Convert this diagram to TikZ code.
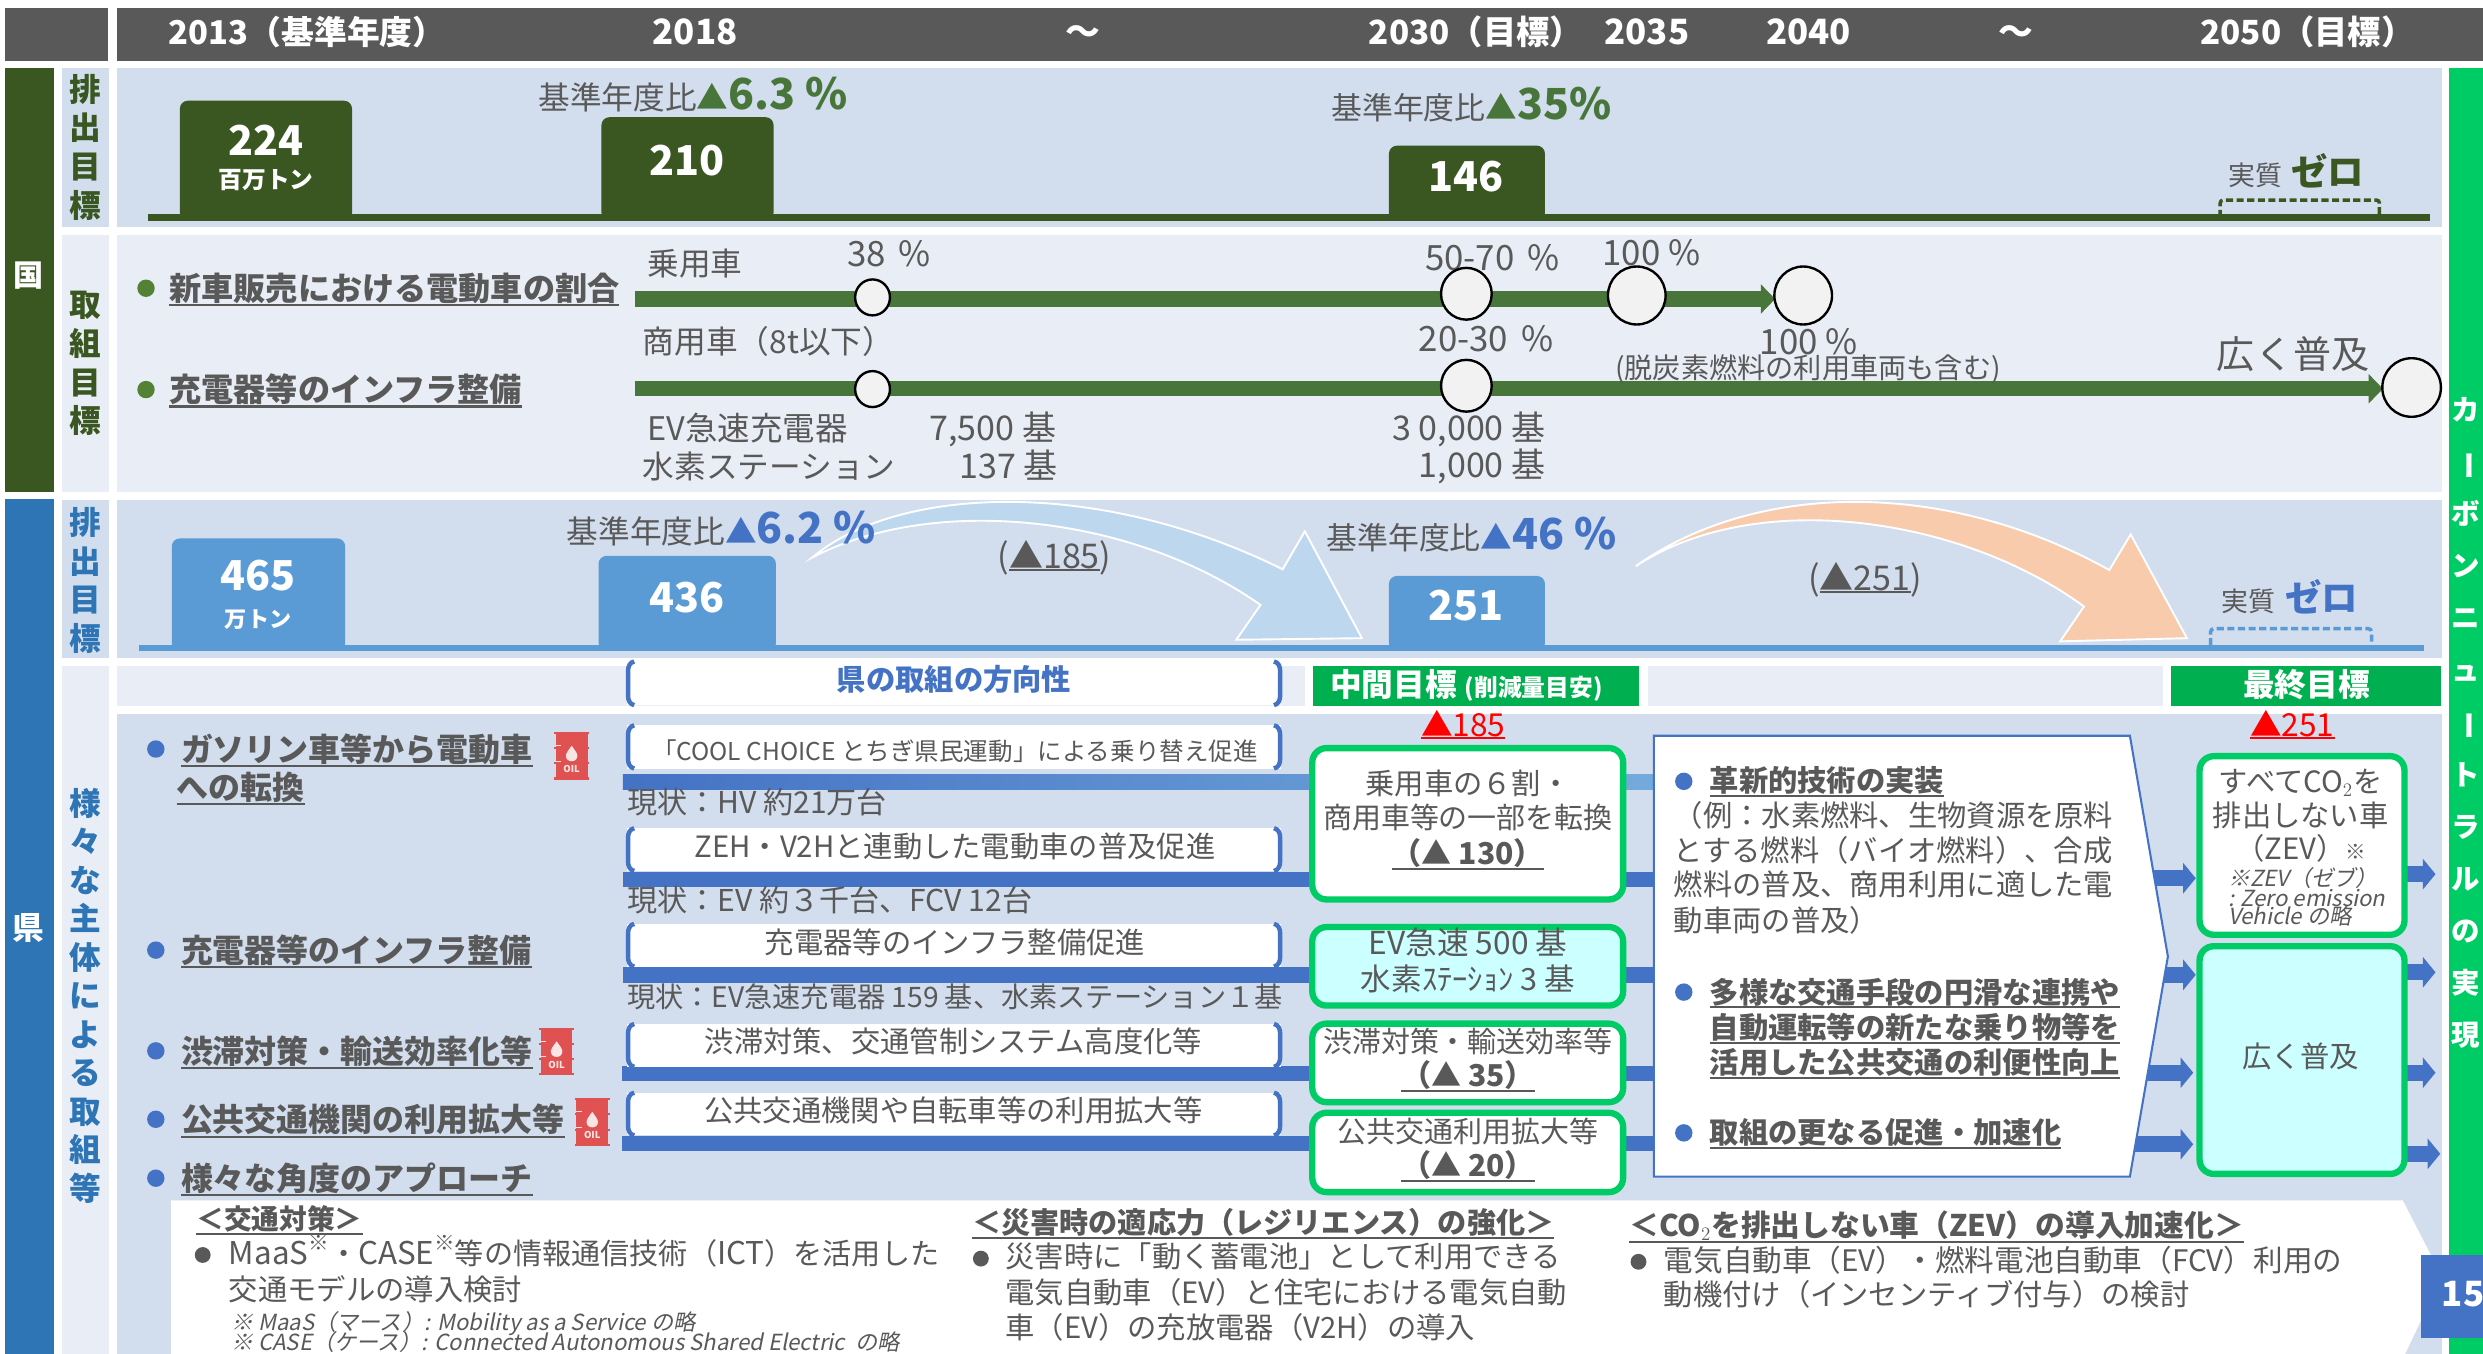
\documentclass[tikz,border=0pt]{standalone}
\usepackage{fontspec}
\usepackage{graphicx}
\setmainfont{Noto Sans CJK JP}[AutoFakeSlant=0.2]
\usetikzlibrary{arrows.meta,shapes.geometric}
\definecolor{hdr}{HTML}{595959}
\definecolor{dgreen}{HTML}{3A5722}
\definecolor{mgreen}{HTML}{48763A}
\definecolor{bgreen}{HTML}{00CC66}
\definecolor{cgreen}{HTML}{00B050}
\definecolor{lgreen}{HTML}{548235}
\definecolor{pa}{HTML}{D2DDEE}
\definecolor{pb}{HTML}{E9EDF6}
\definecolor{kblue}{HTML}{2E75B6}
\definecolor{sblue}{HTML}{5B9BD5}
\definecolor{rblue}{HTML}{4472C4}
\definecolor{tgrey}{HTML}{595959}
\definecolor{cyanbox}{HTML}{CCFFFF}
\definecolor{oilred}{HTML}{E05252}
\definecolor{arblue}{HTML}{BDD7EE}
\definecolor{arpeach}{HTML}{F8CBAD}
\definecolor{circ}{HTML}{F2F2F2}
\newcommand\fs[1]{\fontsize{#1}{#1}\selectfont}
\newcommand\fsb[2]{\fontsize{#1}{#2}\selectfont}
\newcommand\ulx[1]{\vtop{\hbox{#1}\kern0.3pt\hrule height 1.3pt}}
\tikzset{
 txt/.style={inner sep=0,outer sep=0,text=tgrey},
 tl/.style={txt,anchor=base west},
 tc/.style={txt,anchor=base},
 tr/.style={txt,anchor=base east},
 fz/.style={font=\fs{#1}},
 bz/.style={font=\fs{#1}\bfseries},
 wht/.style={text=white},
 vlab/.style={inner sep=0,outer sep=0,align=center,anchor=center},
 dot/.style={circle,inner sep=0,minimum size=11pt,fill=#1},
 ring/.style={ellipse,draw=black,line width=1.5pt,fill=circ,inner sep=0},
 track/.style={draw=mgreen,line width=9.5pt,-{Triangle[length=9pt,width=18pt]}},
 blk/.style={draw=rblue,line width=9.5pt},
 blkarrow/.style={draw=rblue,line width=10pt,-{Triangle[length=8pt,width=19pt]}},
 gbox/.style={draw=bgreen,line width=4pt,rounded corners=9pt,fill=#1},
 brk/.style={draw=rblue,line width=2.8pt},
 dashbox/.style={draw=#1,line width=2.2pt,dash pattern=on 4.5pt off 2.2pt,rounded corners=2pt},
 oilpic/.pic={
  \fill[oilred] (1,0) rectangle (21,30);
  \fill[oilred] (0,0) rectangle (22,1.4);
  \fill[oilred] (0,28.6) rectangle (22,30);
  \fill[oilred] (0,9.6) rectangle (22,10.8);
  \fill[oilred] (0,19.2) rectangle (22,20.4);
  \fill[white!80!oilred] (1,8.2) rectangle (4.5,8.9);
  \fill[white!80!oilred] (1,18) rectangle (4.5,18.7);
  \fill[white!85!oilred] (11,8.6) .. controls (8.5,12) and (7.4,13.5) .. (7.4,15) .. controls (7.4,17.2) and (9,18.4) .. (11,18.4) .. controls (13,18.4) and (14.6,17.2) .. (14.6,15) .. controls (14.6,13.5) and (13.5,12) .. (11,8.6);
  \node[inner sep=0,text=white!85!oilred,font=\fs{6}\bfseries] (-t) at (11,23.4) {OIL};
 }
}
\newcommand\brbox[5]{% name x1 y1 x2 y2
 \node[fill=white,inner sep=0,outer sep=0,anchor=north west,minimum width={#4-#2},minimum height={#5-#3}] (#1) at (#2,#3) {};
 \draw[brk] ([xshift=4.5pt]#1.north west) to[out=190,in=90] ([xshift=0.6pt,yshift=-6pt]#1.north west) -- ([xshift=0.6pt,yshift=6pt]#1.south west) to[out=-90,in=170] ([xshift=4.5pt]#1.south west);
 \draw[brk] ([xshift=-4.5pt]#1.north east) to[out=-10,in=90] ([xshift=-0.6pt,yshift=-6pt]#1.north east) -- ([xshift=-0.6pt,yshift=6pt]#1.south east) to[out=-90,in=10] ([xshift=-4.5pt]#1.south east);
}
\begin{document}
\begin{tikzpicture}[x=1pt,y=-1pt]
\useasboundingbox (0,0) rectangle (1568,855);
\fill[white] (0,0) rectangle (1568,855);
% header
\fill[hdr] (3,5.3) rectangle (68.5,38.3);
\fill[hdr] (74,5.3) rectangle (1568,38.3);
\node[tc,wht,bz=20.7] (h1) at (194,28) {2013（基準年度）};
\node[tc,wht,bz=22] (h2) at (439,28) {2018};
\node[tc,wht,bz=22] (h3) at (684,28) {～};
\node[tc,wht,bz=21] (h4) at (932,28) {2030（目標）};
\node[tc,wht,bz=22] (h5) at (1040,28) {2035};
\node[tc,wht,bz=22] (h6) at (1142,28) {2040};
\node[tc,wht,bz=22] (h7) at (1273,28) {～};
\node[tc,wht,bz=21] (h8) at (1457,28) {2050（目標）};
% side bars
\fill[dgreen] (3,43) rectangle (34,310.5);
\fill[kblue] (3,315) rectangle (34,855);
\fill[pa] (39,43) rectangle (69,143.4);
\fill[pb] (39,148.4) rectangle (69,310.5);
\fill[pa] (39,315.5) rectangle (69,415.5);
\fill[pb] (39,420.6) rectangle (69,855);
\fill[pa] (74,43) rectangle (1542,143.4);
\fill[pb] (74,148.4) rectangle (1542,310.5);
\fill[pa] (74,315.5) rectangle (1542,415.5);
\fill[pb] (74,420.6) rectangle (824,446);
\fill[pb] (1040.5,420.6) rectangle (1366,446);
\fill[pa] (74,451) rectangle (1542,855);
\fill[bgreen] (1546.6,43) rectangle (1568,855);
\node[vlab,text=white,font=\fs{19}\bfseries] (koku) at (18,174) {国};
\node[vlab,text=white,font=\fs{20}\bfseries] (ken) at (18,586) {県};
\node[vlab,text=dgreen,font=\fsb{20}{24.4}\bfseries] (v1) at (54,93) {排\\出\\目\\標};
\node[vlab,text=dgreen,font=\fsb{20}{24.4}\bfseries] (v2) at (54,229.6) {取\\組\\目\\標};
\node[vlab,text=kblue,font=\fsb{20}{24.4}\bfseries] (v3) at (54,366.5) {排\\出\\目\\標};
\node[vlab,text=kblue,font=\fsb{20}{24.3}\bfseries] (v4) at (54,628.8) {様\\々\\な\\主\\体\\に\\よ\\る\\取\\組\\等};
\node[vlab,text=white,font=\fsb{18}{32.9}\bfseries] (v5) at (1557,456.5) {カ\\\rotatebox[origin=c]{-90}{ー}\\ボ\\ン\\ニ\\ュ\\\rotatebox[origin=c]{-90}{ー}\\ト\\ラ\\ル\\の\\実\\現};
% national emission row
\fill[dgreen,rounded corners=5pt] (113.6,63.6) rectangle (222.3,139.4);
\fill[dgreen,rounded corners=5pt] (379.8,74) rectangle (488.5,139.4);
\fill[dgreen,rounded corners=5pt] (877.1,92) rectangle (975.6,139.4);
\coordinate (ng1) at (93.4,137.4);
\coordinate (ng2) at (1534.6,137.4);
\draw[dgreen,line width=4pt] (ng1) -- (ng2);
\node[tc,wht,bz=26] (n224) at (168,98) {224};
\node[tc,wht,bz=15] (nunit) at (168,119) {百万トン};
\node[tc,wht,bz=26] (n210) at (434,111) {210};
\node[tc,wht,bz=26] (n146) at (926,121) {146};
\node[tl,fz=20] (nr1) at (340,69) {基準年度比};
\node[tl,bz=20,text=mgreen] (nr1a) at (nr1.base east) {▲};
\node[tl,bz=27,text=mgreen] (nr1b) at (nr1a.base east) {6.3 \%};
\node[tl,fz=19.5] (nr2) at (840.7,75.5) {基準年度比};
\node[tl,bz=20,text=mgreen] (nr2a) at (nr2.base east) {▲};
\node[tl,bz=27,text=mgreen] (nr2b) at (nr2a.base east) {35\%};
\node[tl,fz=17] (nz1) at (1407,117) {実質};
\node[tl,bz=23,text=dgreen] (nz2) at (1447,117) {ゼロ};
\draw[dashbox=dgreen] (1402,137) -- (1402,126.3) -- (1502.6,126.3) -- (1502.6,137);
% national measures
\node[dot=lgreen] (nb1) at (92.2,182) {};
\node[dot=lgreen] (nb2) at (92.2,246) {};
\node[tl,bz=20.3] (nm1) at (107,189.5) {\ulx{新車販売における電動車の割合}};
\node[tl,bz=20.3] (nm2) at (107,253.7) {\ulx{充電器等のインフラ整備}};
\coordinate (tr1a) at (400.7,188.8);
\coordinate (tr1b) at (1121,188.8);
\coordinate (tr2a) at (400.7,245.5);
\coordinate (tr2b) at (1504.8,245.5);
\draw[track] (tr1a) -- (tr1b);
\draw[track] (tr2a) -- (tr2b);
\node[tl,fz=20] (p1) at (408.8,173.7) {乗用車};
\node[tl,fz=22] (p2) at (535,168.4) {38\hspace{.15em} \%};
\node[tl,fz=20] (p3) at (406,223) {商用車（8t以下）};
\node[tl,fz=22] (p4) at (900,170.6) {50-70\hspace{.15em} \%};
\node[tl,fz=22] (p5) at (1012,167.7) {100 \%};
\node[tl,fz=22] (p6) at (896,222) {20-30\hspace{.15em} \%};
\node[tl,fz=22] (p7) at (1111.3,223.6) {100 \%};
\node[tl,fz=17.8] (p8) at (1020,239) {(脱炭素燃料の利用車両も含む)};
\node[tl,fz=24] (p9) at (1400,232.6) {広く普及};
\node[tl,fz=20.5] (p10) at (408.8,278.3) {EV急速充電器};
\node[tr,fz=21.5] (p11) at (667,278.3) {7,500 基};
\node[tl,fz=20] (p12) at (406,302) {水素ステーション};
\node[tr,fz=21.5] (p13) at (668,302) {137 基};
\node[tr,fz=21.5] (p14) at (976,278.3) {3 0,000 基};
\node[tr,fz=21.5] (p15) at (976,301.7) {1,000 基};
\node[ring,minimum width=22pt,minimum height=22.7pt] (c1) at (551,187.8) {};
\node[ring,minimum width=32pt,minimum height=32.7pt] (c2) at (926,185.5) {};
\node[ring,minimum width=36.4pt,minimum height=36.6pt] (c3) at (1033.6,186.6) {};
\node[ring,minimum width=36.4pt,minimum height=36.6pt] (c4) at (1138.7,186.6) {};
\node[ring,minimum width=22pt,minimum height=22.7pt] (c5) at (551,245.7) {};
\node[ring,minimum width=32pt,minimum height=32.7pt] (c6) at (926,243.6) {};
\node[ring,minimum width=37pt,minimum height=37pt] (c7) at (1522.9,244.7) {};
% prefecture emission row
\fill[sblue,rounded corners=5pt] (108.5,340) rectangle (218,411);
\fill[sblue,rounded corners=5pt] (378,351) rectangle (490,411);
\fill[sblue,rounded corners=5pt] (877.1,363.7) rectangle (975.6,411);
\coordinate (kg1) at (88,409.3);
\coordinate (kg2) at (1531,409.3);
\draw[sblue,line width=4pt] (kg1) -- (kg2);
\node[tc,wht,bz=26] (k465) at (163,373) {465};
\node[tc,wht,bz=14] (kunit) at (163,396) {万トン};
\node[tc,wht,bz=26] (k436) at (434,387) {436};
\node[tc,wht,bz=26] (k251) at (926,392) {251};
\path[fill=arblue,draw=white,line width=1.2pt] (513,352) .. controls (565,308) and (690,300) .. (810,359.5) -- (824,335.5) -- (860,403) -- (780.7,404) -- (796,382) .. controls (715,325) and (590,312) .. cycle;
\path[fill=arpeach,draw=white,line width=1.2pt] (1033,357.5) .. controls (1110,303) and (1230,303) .. (1332,360) -- (1345.5,337.5) -- (1381,403) -- (1301,405) -- (1316,383) .. controls (1240,327) and (1110,307) .. cycle;
\node[tl,fz=20] (kr1) at (358,343) {基準年度比};
\node[tl,bz=20,text=rblue] (kr1a) at (kr1.base east) {▲};
\node[tl,bz=27,text=rblue] (kr1b) at (kr1a.base east) {6.2 \%};
\node[tl,fz=19.5] (kr2) at (837.6,347) {基準年度比};
\node[tl,bz=20,text=rblue] (kr2a) at (kr2.base east) {▲};
\node[tl,bz=27,text=rblue] (kr2b) at (kr2a.base east) {46 \%};
\node[tl,fz=17] (kz1) at (1403,386) {実質};
\node[tl,bz=23,text=rblue] (kz2) at (1443,386) {ゼロ};
\draw[dashbox=sblue] (1396,407.5) -- (1396,397) -- (1497.6,397) -- (1497.6,407.5);
\node[tl,fz=21.5] (ka1) at (630,359) {(\ulx{▲185})};
\node[tl,fz=21.5] (ka2) at (1142,372.7) {(\ulx{▲251})};
% heading strip
\brbox{hb}{396}{417.7}{809}{445.3}
\node[tc,bz=18.5,text=rblue] (hbt) at (602.5,436) {県の取組の方向性};
\fill[cgreen] (829,420.6) rectangle (1035,446);
\fill[cgreen] (1371,420.6) rectangle (1541.6,446);
\node[tl,wht,bz=20] (mid1) at (840,440) {中間目標};
\node[tl,wht,bz=15] (mid2) at (925,440) {(削減量目安)};
\node[tc,wht,bz=20] (fin) at (1456.5,440) {最終目標};
% left items
\node[dot=rblue] (kb1) at (98.4,473) {};
\node[dot=rblue] (kb2) at (98.4,600) {};
\node[dot=rblue] (kb3) at (98.4,663.6) {};
\node[dot=rblue] (kb4) at (98.4,706.8) {};
\node[dot=rblue] (kb5) at (98.4,744) {};
\node[tl,bz=20.2] (ki1) at (114.3,480.7) {\ulx{ガソリン車等から電動車}};
\node[tl,bz=20.2] (ki1b) at (111.6,505) {\ulx{への転換}};
\node[tl,bz=20.2] (ki2) at (114.3,607.6) {\ulx{充電器等のインフラ整備}};
\node[tl,bz=20.2] (ki3) at (114.3,671.5) {\ulx{渋滞対策・輸送効率化等}};
\node[tl,bz=20.2] (ki4) at (114.3,714.8) {\ulx{公共交通機関の利用拡大等}};
\node[tl,bz=20.2] (ki5) at (114.3,751.6) {\ulx{様々な角度のアプローチ}};
\pic (o1) at (350,462.3) {oilpic};
\pic (o2) at (340.5,649) {oilpic};
\pic (o3) at (363,693.5) {oilpic};
% bars to the pentagon
\coordinate (bl2) at (393.4,555.3);
\coordinate (br2) at (1046,555.3);
\coordinate (bl3) at (393.4,615.7);
\coordinate (br3) at (1046,615.7);
\coordinate (bl4) at (393,677.6);
\coordinate (br4) at (1046,677.6);
\coordinate (bl5) at (393,722.4);
\coordinate (br5) at (1046,722.4);
\shade[left color=rblue,right color=sblue!85!white] (393.4,489) rectangle (1046,498.5);
\draw[blk] (bl2) -- (br2);
\draw[blk] (bl3) -- (br3);
\draw[blk] (bl4) -- (br4);
\draw[blk] (bl5) -- (br5);
\brbox{b1}{396}{458}{809}{485.3}
\brbox{b2}{396}{523}{809}{550}
\brbox{b3}{396}{583.4}{809}{610.4}
\brbox{b4}{396}{646.6}{809}{673.7}
\brbox{b5}{396}{690}{809}{717}
\node[tc,fz=15.5] (b1t) at (603,480.4) {「COOL CHOICE とちぎ県民運動」による乗り替え促進};
\node[tc,fz=18.5] (b2t) at (603,541.4) {ZEH・V2Hと連動した電動車の普及促進};
\node[tc,fz=18.5] (b3t) at (603,602) {充電器等のインフラ整備促進};
\node[tc,fz=18.5] (b4t) at (602,664.5) {渋滞対策、交通管制システム高度化等};
\node[tc,fz=18.5] (b5t) at (602,708.5) {公共交通機関や自転車等の利用拡大等};
\node[tl,fz=19] (s1) at (396,514) {現状：HV 約21万台};
\node[tl,fz=19] (s2) at (396,575.9) {現状：EV 約３千台、FCV 12台};
\node[tl,fz=17.8] (s3) at (396,636.4) {現状：EV急速充電器 159 基、水素ステーション１基};
% green boxes
\node[tc,fz=20,text=red] (red1) at (924,465) {\ulx{▲185}};
\node[tc,fz=20,text=red] (red2) at (1447.6,465) {\ulx{▲251}};
\draw[gbox=white] (828.7,472.4) rectangle (1025,568);
\draw[gbox=cyanbox] (828.7,585.4) rectangle (1025,635);
\draw[gbox=white] (828.7,646.4) rectangle (1025,696);
\draw[gbox=white] (828.7,702.7) rectangle (1025,752.8);
\node[tc,fz=18.5] (g1a) at (927,502) {乗用車の６割・};
\node[tc,fz=18.3] (g1b) at (927,523) {商用車等の一部を転換};
\node[tc,bz=19] (g1c) at (927,545.7) {\ulx{（▲ 130）}};
\node[tc,fz=20] (g2a) at (927,603) {EV急速 500 基};
\node[tc,fz=19.3] (g2b) at (927,625.6) {水素ｽﾃｰｼｮﾝ 3 基};
\node[tc,fz=18.3] (g3a) at (927,664.5) {渋滞対策・輸送効率等};
\node[tc,bz=19] (g3b) at (927,686) {\ulx{（▲ 35）}};
\node[tc,fz=18.3] (g4a) at (927,721.4) {公共交通利用拡大等};
\node[tc,bz=19] (g4b) at (927,743) {\ulx{（▲ 20）}};
% pentagon
\coordinate (a1l) at (1360,554.6);
\coordinate (a1r) at (1386.6,554.6);
\coordinate (a2l) at (1364,615.6);
\coordinate (a2r) at (1386.6,615.6);
\coordinate (a3l) at (1356,677.4);
\coordinate (a3r) at (1385,677.4);
\coordinate (a4l) at (1347,722.6);
\coordinate (a4r) at (1385,722.6);
\draw[blkarrow] (a1l) -- (a1r);
\draw[blkarrow] (a2l) -- (a2r);
\draw[blkarrow] (a3l) -- (a3r);
\draw[blkarrow] (a4l) -- (a4r);
\path[fill=white,draw=rblue,line width=1.3pt] (1044.4,464.6) -- (1345,464.6) -- (1369,604) -- (1345,743) -- (1044.4,743) -- cycle;
\node[dot=rblue] (pb1) at (1063.3,493.4) {};
\node[dot=rblue] (pb2) at (1063.3,626.5) {};
\node[dot=rblue] (pb3) at (1063.3,715.4) {};
\node[tl,bz=18.5] (pt1) at (1079.7,500) {\ulx{革新的技術の実装}};
\node[tl,fz=18.5] (pt2) at (1057,522) {（例：水素燃料、生物資源を原料};
\node[tl,fz=18.5] (pt3) at (1057,544.3) {とする燃料（バイオ燃料）、合成};
\node[tl,fz=18.5] (pt4) at (1057,565.8) {燃料の普及、商用利用に適した電};
\node[tl,fz=18.5] (pt5) at (1057,588.3) {動車両の普及）};
\node[tl,bz=18.5] (pt6) at (1079.7,633.4) {\ulx{多様な交通手段の円滑な連携や}};
\node[tl,bz=18.5] (pt7) at (1079.7,656) {\ulx{自動運転等の新たな乗り物等を}};
\node[tl,bz=18.5] (pt8) at (1079.7,678) {\ulx{活用した公共交通の利便性向上}};
\node[tl,bz=18.5] (pt9) at (1079.7,722) {\ulx{取組の更なる促進・加速化}};
% final boxes
\coordinate (e1l) at (1516,552);
\coordinate (e1r) at (1538,552);
\coordinate (e2l) at (1516,614);
\coordinate (e2r) at (1538,614);
\coordinate (e3l) at (1516,677.4);
\coordinate (e3r) at (1538,677.4);
\coordinate (e4l) at (1516,728.6);
\coordinate (e4r) at (1541,728.6);
\draw[blkarrow] (e1l) -- (e1r);
\draw[blkarrow] (e2l) -- (e2r);
\draw[blkarrow] (e3l) -- (e3r);
\draw[blkarrow] (e4l) -- (e4r);
\draw[gbox=white] (1389,477.5) rectangle (1518.4,590.3);
\draw[gbox=cyanbox] (1389,597.5) rectangle (1518.4,741.3);
\node[tc,fz=18.5] (z1) at (1452.8,500.6) {すべてCO$_2$を};
\node[tc,fz=18.5] (z2) at (1452.8,522) {排出しない車};
\node[tc,fz=18.5] (z3) at (1452.8,542.8) {（ZEV）\fs{13}※};
\node[tl,font=\fs{14}\itshape] (z4) at (1407,560) {※ZEV（ゼブ）};
\node[tl,font=\fs{14}\itshape] (z5) at (1407,572.5) {: Zero emission};
\node[tl,font=\fs{14}\itshape] (z6) at (1407,584) {Vehicle の略};
\node[tc,fz=18.5] (z7) at (1452.8,674) {広く普及};
% bottom white panel
\path[fill=white] (108,758) -- (1517.3,758) -- (1542,806) -- (1518.8,855) -- (108,855) -- cycle;
\node[tl,bz=17.5] (x1) at (124,776.6) {\ulx{＜交通対策＞}};
\node[dot=tgrey,minimum size=10pt] (xb1) at (128,792.5) {};
\node[tl,fz=18.6] (x2) at (144.6,798.8) {\fs{19.8}MaaS\raisebox{.45em}{\fs{13}※}\fs{18.4}・\fs{19.8}CASE\raisebox{.45em}{\fs{13}※}\fs{18.4}等の情報通信技術（\fs{19.8}ICT\fs{18.4}）を活用した};
\node[tl,fz=18.5] (x3) at (144.6,821) {交通モデルの導入検討};
\node[tl,font=\fs{14}\itshape] (x4) at (146,840) {※ MaaS（マース）: Mobility as a Service の略};
\node[tl,font=\fs{14}\itshape] (x5) at (146,853) {※ CASE（ケース）: Connected Autonomous Shared Electric\ \ の略};
\node[tl,bz=18.4] (y1) at (614,778.8) {\ulx{＜災害時の適応力（レジリエンス）の強化＞}};
\node[dot=tgrey,minimum size=10pt] (yb1) at (619.4,794.8) {};
\node[tl,fz=18.5] (y2) at (635,800.3) {災害時に「動く蓄電池」として利用できる};
\node[tl,fz=18.5] (y3) at (635,823) {電気自動車（EV）と住宅における電気自動};
\node[tl,fz=18.5] (y4) at (635,845.5) {車（EV）の充放電器（V2H）の導入};
\node[tl,bz=18.8] (w1) at (1029,781) {\ulx{＜CO$_2$を排出しない車（ZEV）の導入加速化＞}};
\node[dot=tgrey,minimum size=10pt] (wb1) at (1034.7,796.8) {};
\node[tl,fz=18.7] (w2) at (1050.7,803) {電気自動車（EV）・燃料電池自動車（FCV）利用の};
\node[tl,fz=18.5] (w3) at (1050.7,824.7) {動機付け（インセンティブ付与）の検討};
% page number
\fill[rblue] (1528.7,792.6) rectangle (1568,844.8);
\node[tl,wht,bz=22] (pg) at (1542,825) {15};
\end{tikzpicture}
\end{document}
